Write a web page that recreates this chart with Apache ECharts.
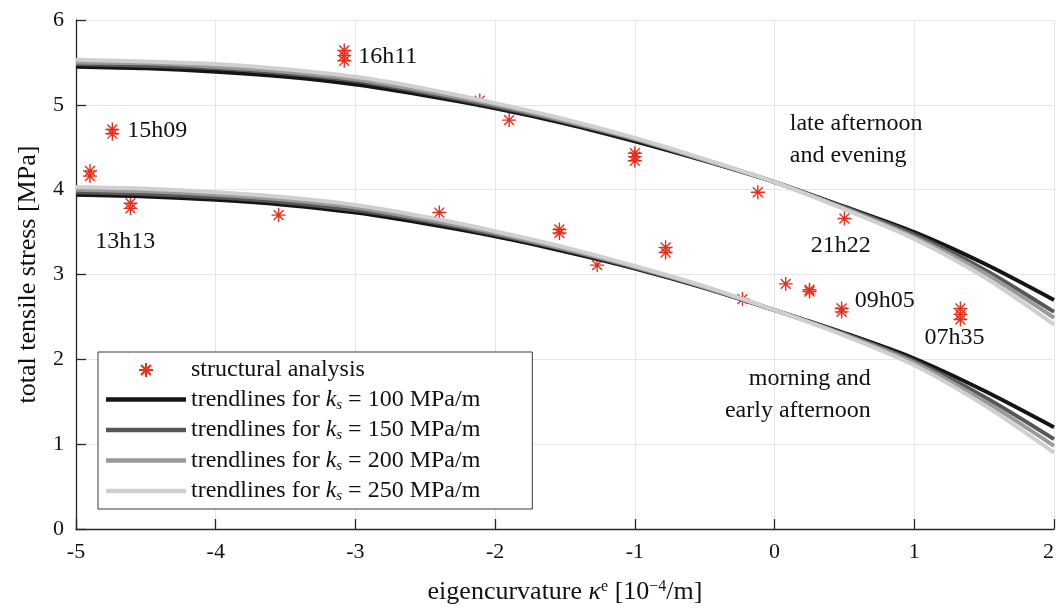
<!DOCTYPE html>
<html><head><meta charset="utf-8">
<script src="https://cdn.jsdelivr.net/npm/echarts@6/dist/echarts.min.js"></script>
<style>html,body{margin:0;padding:0;background:#fff}#c{width:1057px;height:610px}</style>
</head><body><div id="c"></div>
<script>
// ---- data ----
const curveX = [-5, -4.5, -4, -3.5, -3, -2.5, -2, -1.5, -1, -0.5, 0, 0.5, 1, 1.5, 2];
// upper family (late afternoon and evening)
const upper100 = [5.45, 5.43, 5.39, 5.33, 5.24, 5.11, 4.96, 4.78, 4.57, 4.34, 4.09, 3.80, 3.50, 3.13, 2.70];
const upper150 = [5.48, 5.46, 5.43, 5.37, 5.28, 5.14, 4.98, 4.80, 4.59, 4.35, 4.09, 3.79, 3.47, 3.06, 2.56];
const upper200 = [5.50, 5.49, 5.45, 5.39, 5.30, 5.16, 5.00, 4.81, 4.60, 4.35, 4.09, 3.78, 3.44, 3.02, 2.49];
const upper250 = [5.53, 5.51, 5.48, 5.42, 5.33, 5.19, 5.02, 4.83, 4.61, 4.36, 4.09, 3.77, 3.42, 2.97, 2.41];
// lower family (morning and early afternoon)
const lower100 = [3.94, 3.92, 3.88, 3.82, 3.73, 3.60, 3.45, 3.27, 3.07, 2.84, 2.58, 2.31, 2.01, 1.63, 1.20];
const lower150 = [3.97, 3.95, 3.91, 3.85, 3.76, 3.63, 3.47, 3.29, 3.08, 2.85, 2.58, 2.30, 1.98, 1.56, 1.06];
const lower200 = [4.00, 3.98, 3.94, 3.88, 3.79, 3.65, 3.49, 3.30, 3.09, 2.85, 2.58, 2.29, 1.96, 1.51, 0.98];
const lower250 = [4.03, 4.01, 3.97, 3.91, 3.82, 3.68, 3.51, 3.32, 3.10, 2.86, 2.58, 2.28, 1.93, 1.46, 0.90];
const ksValues = [100, 150, 200, 250];

// structural analysis points
const pointX = [-4.90, -4.90, -4.61, -4.61, -4.74, -4.74, -3.08, -3.08, -3.08, -3.55, -2.40, -2.11, -1.90,
  -1.00, -1.00, -1.00, -0.12, 0.50, -1.54, -1.54, -0.78, -0.78, -1.27, -0.23, 0.08, 0.25, 0.25, 0.48, 0.48,
  1.33, 1.33, 1.33];
const pointY = [4.16, 4.22, 3.78, 3.84, 4.66, 4.71, 5.52, 5.58, 5.64, 3.70, 3.73, 5.05, 4.82,
  4.34, 4.39, 4.43, 3.97, 3.66, 3.49, 3.53, 3.26, 3.32, 3.11, 2.71, 2.89, 2.80, 2.82, 2.56, 2.60,
  2.47, 2.53, 2.60];

// annotations
const annText = ['16h11', '15h09', '13h13', '21h22', '09h05', '07h35', 'late afternoon\nand evening', 'morning and\nearly afternoon'];
const annX = [-2.98, -4.633, -4.862, 0.259, 0.573, 1.073, 0.109, 0.689];
const annY = [5.57, 4.70, 3.39, 3.345, 2.686, 2.25, 4.59, 1.578];

const xMin = -5, xMax = 2, xStep = 1;
const yMin = 0, yMax = 6, yStep = 1;

// ---- chart ----
const FONT = 'Liberation Serif';
const TXT = '#111111';
const RED = '#e5301d';
const greys = ['#151515', '#575757', '#9a9a9a', '#cfcfcf'];
const STAR = 'path://M0,-10L0,10M-10,0L10,0M-7.07,-7.07L7.07,7.07M-7.07,7.07L7.07,-7.07';
const BAR = 'path://M0,0L160,0L160,9L0,9Z';

const upperSets = [upper100, upper150, upper200, upper250];
const lowerSets = [lower100, lower150, lower200, lower250];

const series = [];
series.push({
  name: 'structural analysis', type: 'scatter', z: 2,
  symbol: STAR, symbolSize: 14,
  itemStyle: { color: 'rgba(0,0,0,0)', borderColor: RED, borderWidth: 1.4, opacity: 1 },
  data: pointX.map((x, i) => [x, pointY[i]])
});
ksValues.forEach((k, j) => {
  [upperSets[j], lowerSets[j]].forEach(arr => {
    series.push({
      name: 'ks' + k, type: 'line', z: 3 + j,
      smooth: 0.3, symbol: 'none', silent: true,
      lineStyle: { color: greys[j], width: 4 },
      itemStyle: { color: greys[j] },
      data: curveX.map((x, i) => [x, arr[i]])
    });
  });
});
series.push({
  name: 'ann', type: 'scatter', z: 10, silent: true, symbolSize: 0,
  itemStyle: { opacity: 1 },
  data: annText.map((t, i) => ({
    value: [annX[i], annY[i]],
    label: {
      show: true, formatter: t, position: 'inside',
      align: i === 7 ? 'right' : 'left', verticalAlign: 'middle',
      fontFamily: FONT, fontSize: 24, color: TXT, lineHeight: 32,
      textBorderWidth: 0, opacity: 1
    }
  }))
});

const legendData = [{ name: 'structural analysis' }].concat(
  ksValues.map(k => ({ name: 'ks' + k, icon: BAR })));

const chart = echarts.init(document.getElementById('c'), null, { renderer: 'canvas' });
chart.setOption({
  backgroundColor: '#fff',
  animation: false,
  grid: { left: 76, right: 1, top: 20, bottom: 80, containLabel: false },
  xAxis: {
    type: 'value', min: xMin, max: xMax, interval: xStep,
    name: 'eigencurvature {i|κ}{sup|e} [10{sup|−4}/m]',
    nameLocation: 'middle', nameGap: 50,
    nameTextStyle: {
      fontFamily: FONT, fontSize: 26, color: TXT,
      rich: {
        i: { fontFamily: FONT, fontSize: 26, fontStyle: 'italic', color: TXT },
        sup: { fontFamily: FONT, fontSize: 16, color: TXT, verticalAlign: 'top', lineHeight: 14 }
      }
    },
    axisLine: { show: true, onZero: false, lineStyle: { color: '#262626', width: 1.3 } },
    axisTick: { show: true, inside: true, length: 10, lineStyle: { color: '#262626', width: 1.3 } },
    axisLabel: { fontFamily: FONT, fontSize: 22, color: TXT, margin: 12, alignMaxLabel: 'right' },
    splitLine: { show: true, lineStyle: { color: '#e6e6e6', width: 1 } }
  },
  yAxis: {
    type: 'value', min: yMin, max: yMax, interval: yStep,
    name: 'total tensile stress [MPa]',
    nameLocation: 'middle', nameGap: 35, nameRotate: 90,
    nameTextStyle: { fontFamily: FONT, fontSize: 26, color: TXT },
    axisLine: { show: true, onZero: false, lineStyle: { color: '#262626', width: 1.3 } },
    axisTick: { show: true, inside: true, length: 10, lineStyle: { color: '#262626', width: 1.3 } },
    axisLabel: { fontFamily: FONT, fontSize: 22, color: TXT, margin: 12 },
    splitLine: { show: true, lineStyle: { color: '#e6e6e6', width: 1 } }
  },
  legend: {
    show: true, orient: 'vertical', left: 98, top: 352,
    data: legendData,
    backgroundColor: '#fff', borderColor: '#3a3a3a', borderWidth: 1,
    padding: [6, 52, 5, 8], itemGap: 5.5, itemWidth: 80, itemHeight: 14,
    selectedMode: false,
    formatter: function (n) {
      if (n === 'structural analysis') return '{n|structural analysis}';
      return '{n|trendlines for }{i|k}{s|s}{n| = ' + n.slice(2) + ' MPa/m}';
    },
    textStyle: {
      fontFamily: FONT, fontSize: 24, color: TXT,
      rich: {
        n: { fontFamily: FONT, fontSize: 24, color: TXT, lineHeight: 26 },
        i: { fontFamily: FONT, fontSize: 24, fontStyle: 'italic', color: TXT, lineHeight: 26 },
        s: { fontFamily: FONT, fontSize: 15, fontStyle: 'italic', color: TXT, verticalAlign: 'bottom', lineHeight: 14 }
      }
    }
  },
  series: series
});
</script>
</body></html>
